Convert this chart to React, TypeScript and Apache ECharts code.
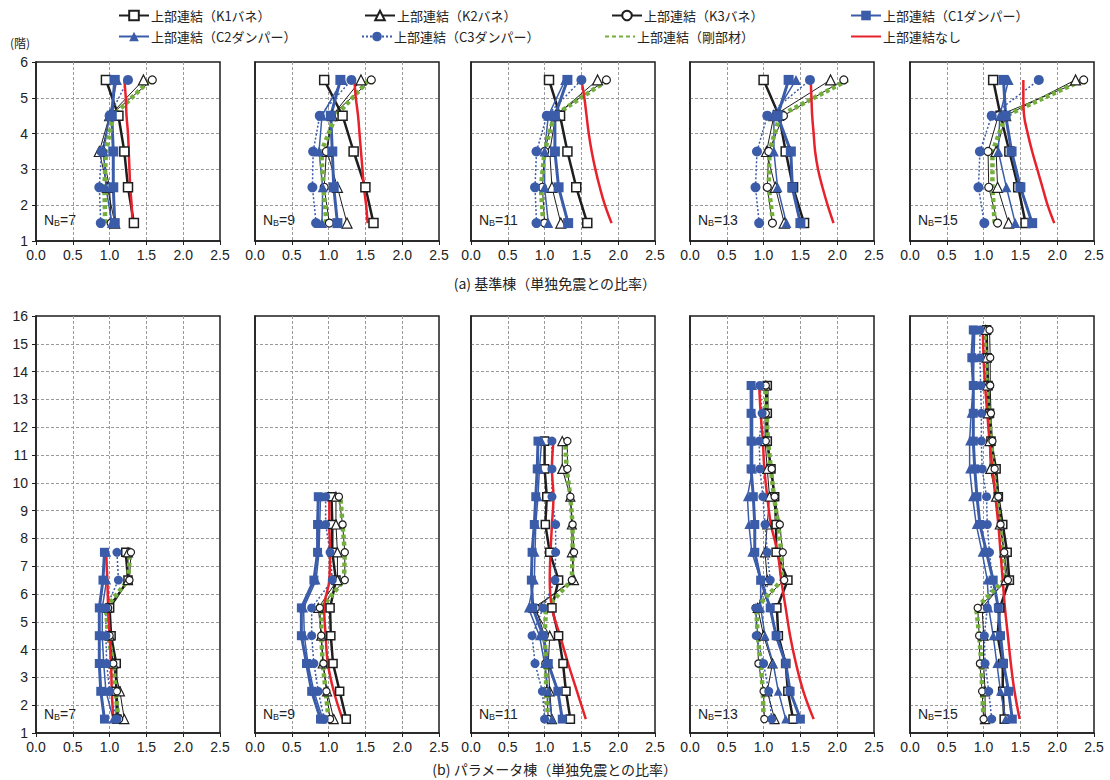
import { useEffect, useRef } from 'react';
import * as echarts from 'echarts';

const NAMES = [
  '上部連結（K1バネ）',
  '上部連結（K2バネ）',
  '上部連結（K3バネ）',
  '上部連結（C1ダンパー）',
  '上部連結（C2ダンパー）',
  '上部連結（C3ダンパー）',
  '上部連結（剛部材）',
  '上部連結なし',
];
const NB_LIST = [7, 9, 11, 13, 15];
const X_TICKS = [0, 0.5, 1, 1.5, 2, 2.5];
const TOP_LEVELS = [1.5, 2.5, 3.5, 4.5, 5.5];
const TOP_RED_LEVELS = [1.5, 2, 2.5, 3, 3.5, 4, 4.5, 5, 5.5];
const LEVELS = [1.5, 2.5, 3.5, 4.5, 5.5, 6.5, 7.5, 8.5, 9.5, 10.5, 11.5, 12.5, 13.5, 14.5, 15.5];

// (a) 基準棟 — order: K1, K2, K3, C1, C2, C3, 剛部材, なし ; values from story 1 upward
const TOP_7 = [
  [1.33, 1.25, 1.2, 1.12, 0.95],
  [1.07, 0.97, 0.86, 1.0, 1.46],
  [1.02, 1.0, 0.9, 1.0, 1.58],
  [1.07, 1.05, 1.05, 1.03, 1.07],
  [1.03, 0.95, 0.92, 1.0, 1.1],
  [0.88, 0.86, 0.89, 1.0, 1.25],
  [0.94, 0.93, 0.95, 1.05, 1.55],
  [1.31, 1.3, 1.28, 1.27, 1.26, 1.25, 1.23, 1.22, 1.2],
];
const TOP_9 = [
  [1.61, 1.5, 1.34, 1.19, 0.94],
  [1.25, 1.12, 0.98, 1.05, 1.44],
  [1.01, 0.94, 0.97, 1.04, 1.58],
  [1.12, 1.07, 1.05, 1.03, 1.16],
  [0.91, 0.92, 0.87, 0.91, 1.19],
  [0.83, 0.78, 0.79, 0.88, 1.31],
  [0.97, 0.93, 0.9, 1.1, 1.55],
  [1.53, 1.51, 1.48, 1.46, 1.44, 1.42, 1.4, 1.37, 1.35],
];
const TOP_11 = [
  [1.58, 1.43, 1.31, 1.21, 1.06],
  [1.22, 1.1, 1.07, 1.15, 1.72],
  [1.0, 0.97, 1.0, 1.12, 1.84],
  [1.32, 1.19, 1.14, 1.14, 1.31],
  [1.05, 1.0, 1.0, 1.05, 1.28],
  [0.89, 0.87, 0.89, 1.03, 1.5],
  [0.98, 0.95, 1.0, 1.13, 1.86],
  [1.91, 1.82, 1.75, 1.69, 1.64, 1.6, 1.57, 1.54, 1.5],
];
const TOP_13 = [
  [1.55, 1.4, 1.3, 1.21, 1.0],
  [1.28, 1.16, 1.04, 1.14, 1.91],
  [1.12, 1.05, 1.07, 1.27, 2.09],
  [1.5, 1.39, 1.37, 1.19, 1.34],
  [1.31, 1.19, 1.14, 1.14, 1.44],
  [0.94, 0.89, 0.91, 1.05, 1.63],
  [1.13, 1.07, 1.08, 1.22, 2.15],
  [1.95, 1.87, 1.8, 1.74, 1.7, 1.68, 1.66, 1.65, 1.64],
];
const TOP_15 = [
  [1.57, 1.47, 1.35, 1.23, 1.13],
  [1.34, 1.19, 1.17, 1.3, 2.25],
  [1.19, 1.07, 1.06, 1.2, 2.36],
  [1.66, 1.5, 1.38, 1.3, 1.27],
  [1.43, 1.31, 1.2, 1.22, 1.34],
  [1.01, 0.93, 0.95, 1.11, 1.75],
  [1.15, 1.12, 1.12, 1.3, 2.35],
  [1.96, 1.87, 1.8, 1.73, 1.66, 1.6, 1.55, 1.54, 1.54],
];

// (b) パラメータ棟
const BOT_7 = [
  [1.1, 1.09, 1.09, 1.02, 1.0, 1.25, 1.22],
  [1.2, 1.14, 1.05, 1.0, 0.97, 1.25, 1.25],
  [1.13, 1.1, 1.05, 1.0, 0.98, 1.27, 1.29],
  [0.93, 0.88, 0.86, 0.86, 0.86, 0.91, 0.93],
  [1.05, 0.95, 0.92, 0.9, 0.9, 0.96, 0.96],
  [1.1, 1.0, 0.96, 0.95, 0.95, 1.12, 1.1],
  [1.12, 1.08, 1.05, 0.98, 0.95, 1.25, 1.28],
  [1.05, 1.03, 1.02, 1.0, 0.98, 0.97, 0.95],
];
const BOT_9 = [
  [1.24, 1.15, 1.06, 1.03, 1.02, 1.1, 1.05, 1.05, 1.04],
  [1.07, 0.98, 0.92, 0.9, 0.86, 1.12, 1.12, 1.1, 1.1],
  [1.02, 0.97, 0.93, 0.9, 0.88, 1.22, 1.22, 1.19, 1.14],
  [0.89, 0.77, 0.7, 0.63, 0.63, 0.8, 0.85, 0.85, 0.86],
  [0.92, 0.8, 0.72, 0.67, 0.66, 0.83, 0.87, 0.88, 0.89],
  [0.94, 0.86, 0.8, 0.77, 0.77, 1.05, 1.02, 0.96, 0.96],
  [1.0, 0.96, 0.92, 0.9, 0.9, 1.21, 1.22, 1.19, 1.16],
  [1.19, 1.07, 0.99, 0.96, 0.94, 1.01, 1.02, 1.01, 1.01],
];
const BOT_11 = [
  [1.35, 1.29, 1.25, 1.19, 1.1, 1.19, 1.07, 1.01, 1.03, 1.0, 1.0],
  [1.1, 1.07, 1.05, 1.07, 0.85, 1.4, 1.37, 1.37, 1.35, 1.24, 1.24],
  [1.05, 1.03, 1.01, 1.0, 0.88, 1.37, 1.4, 1.38, 1.35, 1.31, 1.31],
  [1.24, 1.18, 1.05, 0.98, 0.84, 0.82, 0.83, 0.86, 0.88, 0.9, 0.91],
  [1.1, 1.05, 1.0, 0.93, 0.78, 0.86, 0.87, 0.88, 0.91, 0.93, 0.96],
  [1.0, 0.97, 0.87, 0.83, 0.98, 1.14, 1.15, 1.15, 1.1, 1.1, 1.1],
  [1.05, 1.02, 1.02, 1.0, 1.02, 1.37, 1.38, 1.38, 1.35, 1.3, 1.28],
  [1.56, 1.44, 1.32, 1.21, 1.1, 1.07, 1.08, 1.1, 1.12, 1.1, 1.12],
];
const BOT_13 = [
  [1.4, 1.33, 1.3, 1.2, 1.18, 1.33, 1.17, 1.17, 1.15, 1.1, 1.05, 1.05, 1.05],
  [1.15, 1.05, 1.12, 1.0, 0.92, 1.05, 1.02, 1.05, 1.08, 1.05, 1.02, 1.02, 1.03],
  [1.01, 1.0, 0.93, 0.92, 0.89, 1.28, 1.26, 1.22, 1.15, 1.11, 1.03, 1.03, 1.03],
  [1.5, 1.36, 1.3, 1.17, 1.09, 0.96, 0.88, 0.88, 0.86, 0.83, 0.83, 0.83, 0.83],
  [1.3, 1.2, 1.13, 1.02, 0.96, 0.96, 0.84, 0.8, 0.78, 0.85, 0.85, 0.85, 0.85],
  [1.11, 1.07, 1.0, 0.9, 0.9, 1.09, 1.05, 1.02, 0.99, 0.95, 0.94, 0.98, 0.95],
  [1.0, 0.99, 0.96, 0.92, 0.9, 1.25, 1.24, 1.2, 1.14, 1.1, 1.06, 1.04, 1.03],
  [1.68, 1.54, 1.44, 1.36, 1.3, 1.24, 1.19, 1.1, 1.05, 1.01, 0.99, 0.96, 0.94],
];
const BOT_15 = [
  [1.28, 1.26, 1.26, 1.19, 1.22, 1.35, 1.32, 1.26, 1.2, 1.17, 1.1, 1.08, 1.06, 1.05, 1.04],
  [1.02, 1.02, 1.0, 1.0, 0.98, 1.3, 1.28, 1.22, 1.17, 1.09, 1.08, 1.06, 1.05, 1.04, 1.03],
  [1.0, 0.98, 0.95, 0.94, 0.92, 1.33, 1.28, 1.23, 1.2, 1.15, 1.12, 1.1, 1.09, 1.09, 1.08],
  [1.39, 1.34, 1.27, 1.23, 1.2, 1.13, 1.04, 0.95, 0.91, 0.88, 0.86, 0.86, 0.86, 0.84, 0.86],
  [1.3, 1.23, 1.18, 1.13, 1.07, 1.05, 0.98, 0.9, 0.85, 0.81, 0.81, 0.83, 0.86, 0.87, 0.88],
  [1.11, 1.07, 1.02, 1.01, 1.05, 1.12, 1.08, 1.05, 1.04, 0.98, 0.97, 0.97, 0.96, 0.95, 0.95],
  [1.0, 0.98, 0.97, 0.94, 0.9, 1.28, 1.26, 1.22, 1.18, 1.13, 1.1, 1.07, 1.04, 1.03, 1.01],
  [1.49, 1.42, 1.37, 1.33, 1.29, 1.26, 1.23, 1.2, 1.16, 1.12, 1.08, 1.05, 1.02, 1.0, 0.99],
];

const TOP_PANELS = [TOP_7, TOP_9, TOP_11, TOP_13, TOP_15];
const BOT_PANELS = [BOT_7, BOT_9, BOT_11, BOT_13, BOT_15];

const BLACK = '#1e1e1e';
const BLUE = '#3b5ca9';
const GREEN = '#74ae3c';
const RED = '#e8222c';
const FONT = "'Liberation Sans', Arial, 'Noto Sans CJK JP', sans-serif";
const JP_FONT = "'Noto Sans CJK JP', 'Liberation Sans', sans-serif";

const COL_LEFT = [36, 255, 471, 690, 910];
const COL_W = 184;
const ROWS = [
  { top: 62, height: 179, max: 6 },
  { top: 316, height: 417, max: 16 },
];

function styleFor(s: number, small: boolean): any {
  const k = small ? 0.9 : 1;
  switch (s) {
    case 0:
      return { lineStyle: { color: BLACK, width: 2.5 }, symbol: 'rect', symbolSize: 9 * k, itemStyle: { color: '#fff', borderColor: BLACK, borderWidth: 1.5 } };
    case 1:
      return { lineStyle: { color: BLACK, width: 1 }, symbol: 'triangle', symbolSize: 10 * k, itemStyle: { color: '#fff', borderColor: BLACK, borderWidth: 1.2 } };
    case 2:
      return { lineStyle: { color: BLACK, width: 1 }, symbol: 'circle', symbolSize: 8 * k, itemStyle: { color: '#fff', borderColor: BLACK, borderWidth: 1.2 } };
    case 3:
      return { lineStyle: { color: BLUE, width: 3 }, symbol: 'rect', symbolSize: 10 * k, itemStyle: { color: BLUE } };
    case 4:
      return { lineStyle: { color: BLUE, width: 1.5 }, symbol: 'triangle', symbolSize: 10 * k, itemStyle: { color: BLUE } };
    case 5:
      return { lineStyle: { color: BLUE, width: 1.5, type: [2, 2] }, symbol: 'circle', symbolSize: 10 * k, itemStyle: { color: BLUE } };
    case 6:
      return { lineStyle: { color: GREEN, width: 4.5, type: [4, 3], cap: 'butt' }, symbol: 'none', itemStyle: { color: GREEN } };
    default:
      return { lineStyle: { color: RED, width: 2.5 }, symbol: 'none', smooth: 0.4, itemStyle: { color: RED } };
  }
}

const LEGEND_POS = [
  { left: 118, top: 9 },
  { left: 364, top: 9 },
  { left: 611, top: 9 },
  { left: 850, top: 9 },
  { left: 118, top: 30 },
  { left: 361, top: 30 },
  { left: 604, top: 30 },
  { left: 850, top: 30 },
];

export default function App() {
  const ref = useRef<HTMLDivElement>(null);
  useEffect(() => {
    document.body.style.margin = '0';
    if (!ref.current) return;
    const chart = echarts.init(ref.current, undefined, { renderer: 'svg' });

    const grids: any[] = [];
    const xAxes: any[] = [];
    const yAxes: any[] = [];
    const series: any[] = [];
    const graphics: any[] = [];

    ROWS.forEach((row, r) => {
      NB_LIST.forEach((nb, c) => {
        const gi = r * 5 + c;
        grids.push({
          left: COL_LEFT[c],
          top: row.top,
          width: COL_W,
          height: row.height,
          show: true,
          borderColor: BLACK,
          borderWidth: 1.5,
          backgroundColor: 'transparent',
        });
        xAxes.push({
          type: 'value',
          gridIndex: gi,
          min: X_TICKS[0],
          max: X_TICKS[X_TICKS.length - 1],
          interval: 0.5,
          axisLine: { show: true, lineStyle: { color: BLACK, width: 1.5 } },
          axisTick: { show: true, inside: false, length: 4, lineStyle: { color: BLACK } },
          axisLabel: { fontSize: 14, color: '#222', fontFamily: FONT, margin: 7, formatter: (v: number) => v.toFixed(1), showMinLabel: true, showMaxLabel: true },
          splitLine: { show: true, showMinLine: false, showMaxLine: false, lineStyle: { color: '#9a9a9a', type: [3, 2], width: 1 } },
        });
        yAxes.push({
          type: 'value',
          gridIndex: gi,
          min: 1,
          max: row.max,
          interval: 1,
          axisLine: { show: true, lineStyle: { color: BLACK, width: 1.5 } },
          axisTick: { show: c === 0, inside: false, length: 4, lineStyle: { color: BLACK } },
          axisLabel: { show: c === 0, fontSize: 14, color: '#222', fontFamily: FONT, margin: 8 },
          splitLine: { show: true, showMinLine: false, showMaxLine: false, lineStyle: { color: '#9a9a9a', type: [3, 2], width: 1 } },
        });
        const panel = r === 0 ? TOP_PANELS[c] : BOT_PANELS[c];
        NAMES.forEach((name, s) => {
          const ys = r === 0 ? (s === 7 ? TOP_RED_LEVELS : TOP_LEVELS) : LEVELS;
          series.push({
            name,
            type: 'line',
            xAxisIndex: gi,
            yAxisIndex: gi,
            data: panel[s].map((x, k) => [x, ys[k]]),
            emphasis: { disabled: true },
            ...styleFor(s, r === 1),
          });
        });
        graphics.push({
          type: 'text',
          left: COL_LEFT[c] + 8,
          top: r === 0 ? 213 : 707,
          style: {
            text: `{n|N}{b|B}{n|=${nb}}`,
            rich: {
              n: { fontSize: 14, fontFamily: FONT, fill: '#222' },
              b: { fontSize: 9, fontFamily: FONT, fill: '#222', padding: [6, 0, 0, 0] },
            },
          },
        });
      });
    });

    graphics.push(
      { type: 'text', left: 10, top: 36, style: { text: '(階)', fontSize: 12, fontFamily: JP_FONT, fill: '#222' } },
      { type: 'text', left: 'center', top: 276, style: { text: '(a) 基準棟（単独免震との比率）', fontSize: 14, fontFamily: JP_FONT, fill: '#222' } },
      { type: 'text', left: 'center', top: 762, style: { text: '(b) パラメータ棟（単独免震との比率）', fontSize: 14, fontFamily: JP_FONT, fill: '#222' } },
    );

    const legends = NAMES.map((name, i) => ({
      left: LEGEND_POS[i].left,
      top: LEGEND_POS[i].top,
      data: i >= 6 ? [{ name, itemStyle: { opacity: 0 } }] : [name],
      selectedMode: false,
      padding: 0,
      itemWidth: 30,
      itemHeight: 12,
      itemGap: 2,
      textStyle: { fontSize: 13, fontFamily: JP_FONT, color: '#222', padding: [0, 0, 0, -3] },
    }));

    chart.setOption({
      animation: false,
      backgroundColor: '#fff',
      grid: grids,
      xAxis: xAxes,
      yAxis: yAxes,
      series,
      legend: legends,
      graphic: graphics,
    });
    return () => chart.dispose();
  }, []);
  return <div ref={ref} style={{ width: 1110, height: 780 }} />;
}
